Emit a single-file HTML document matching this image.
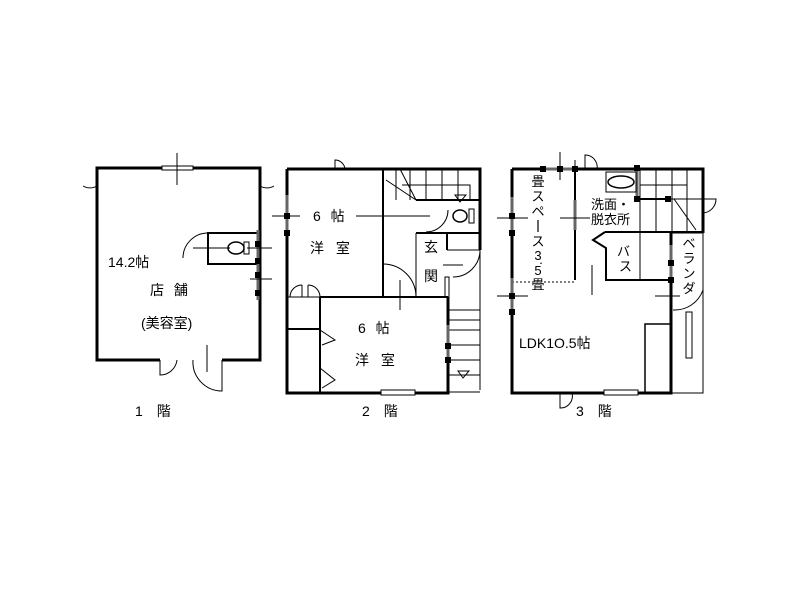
<!DOCTYPE html>
<html><head><meta charset="utf-8"><style>
html,body{margin:0;padding:0;background:#fff;width:800px;height:600px;overflow:hidden}
svg{display:block}
text{font-family:"Liberation Sans","Noto Sans CJK JP",sans-serif;fill:#000}
</style></head><body>
<svg width="800" height="600" viewBox="0 0 800 600" xmlns="http://www.w3.org/2000/svg">
<g fill="none" stroke="#000">
<!-- Floor 1 -->
<rect x="97" y="168" width="163" height="192" stroke-width="3"/>
<rect x="162" y="166" width="31" height="4" fill="#fff" stroke-width="1"/>
<line x1="177" y1="153" x2="177" y2="185" stroke-width="1"/>
<path d="M97 186 A14 14 0 0 1 83 186 M97 186 L97 200 M260 186 A14 14 0 0 0 274 186" stroke-width="1"/>
<rect x="208" y="233" width="50" height="31" stroke-width="2"/>
<path d="M208 233 A25 25 0 0 0 183 258" stroke-width="1"/>
<line x1="193" y1="248" x2="230" y2="248" stroke-width="1"/>
<ellipse cx="236" cy="248" rx="8" ry="6" stroke-width="1.5"/>
<rect x="244" y="242" width="5" height="12" stroke-width="1"/>
<line x1="258" y1="230" x2="258" y2="300" stroke="#666" stroke-width="3"/>
<line x1="250" y1="279" x2="272" y2="279" stroke-width="1"/>
<line x1="247" y1="248" x2="272" y2="248" stroke-width="1"/>
<rect x="160" y="357" width="62" height="6" fill="#fff" stroke="none"/>
<path d="M160 360 L160 375 A17 17 0 0 0 177 360" stroke-width="1"/>
<path d="M222 360 L222 391 A29 29 0 0 1 193 360 M207 345 L207 372" stroke-width="1"/>
<!-- Floor 2 -->
<path d="M287 169 L480 169 L480 250 M287 169 L287 393 L448 393 L448 297" stroke-width="3"/>
<line x1="480" y1="250" x2="480" y2="390" stroke-width="1"/>
<line x1="383" y1="169" x2="383" y2="297" stroke-width="2"/>
<line x1="320" y1="297" x2="448" y2="297" stroke-width="2"/>
<line x1="287" y1="297" x2="320" y2="297" stroke-width="1"/>
<line x1="320" y1="297" x2="320" y2="393" stroke-width="2"/>
<line x1="287" y1="329" x2="320" y2="329" stroke-width="2"/>
<line x1="416" y1="200" x2="480" y2="200" stroke-width="2"/>
<line x1="416" y1="233" x2="480" y2="233" stroke-width="2"/>
<line x1="416" y1="233" x2="416" y2="297" stroke-width="1"/>
<line x1="447" y1="233" x2="447" y2="250" stroke-width="2"/>
<line x1="447" y1="250" x2="480" y2="250" stroke-width="1"/>
<path d="M396 169 L396 200 M410 169 L410 200 M426 169 L426 200 M442 169 L442 200 M458 169 L458 200 M402 185 L470 185 L470 200 M386 180 L416 200 M400 169 L416 200" stroke-width="1"/>
<path d="M455 195 L466 195 L460 202 Z" stroke-width="1"/>
<path d="M448 210 A22 22 0 0 1 426 232" stroke-width="1"/>
<line x1="356" y1="216" x2="430" y2="216" stroke-width="1"/>
<ellipse cx="460" cy="216" rx="7" ry="6" stroke-width="1.5"/>
<rect x="469" y="209" width="5" height="14" stroke-width="1"/>
<path d="M480 250 A27 27 0 0 1 453 277 M443 265 L463 265" stroke-width="1"/>
<rect x="445" y="277" width="4" height="20" stroke-width="1"/>
<path d="M383 264 A33 33 0 0 1 416 297 M400 280 L400 310" stroke-width="1"/>
<path d="M290 297 A12 12 0 0 1 302 285 M302 297 L302 285 M320 297 A12 12 0 0 0 308 285 M308 297 L308 285" stroke-width="1"/>
<path d="M320 330 L335 340 L322 345 M320 368 L335 380 L322 388" stroke-width="1"/>
<path d="M448 310 L480 310 M448 320 L480 320 M448 330 L480 330 M448 345 L480 345 M448 360 L480 360 M448 375 L480 375 M448 392 L480 392" stroke-width="1"/>
<path d="M458 371 L469 371 L463 378 Z" stroke-width="1"/>
<rect x="381" y="390" width="34" height="5" fill="#fff" stroke-width="1"/>
<path d="M335 169 L335 160 A10 10 0 0 1 345 169" stroke-width="1"/>
<line x1="287" y1="195" x2="287" y2="235" stroke="#666" stroke-width="3"/>
<line x1="272" y1="216" x2="300" y2="216" stroke-width="1"/>
<line x1="448" y1="325" x2="448" y2="362" stroke="#666" stroke-width="3"/>
<!-- Floor 3 -->
<path d="M512 169 L703 169 L703 233 M512 169 L512 393 L671 393 L671 233" stroke-width="3"/>
<rect x="671" y="233" width="32" height="160" stroke-width="1"/>
<line x1="575" y1="169" x2="575" y2="280" stroke-width="2"/>
<line x1="605" y1="232" x2="703" y2="232" stroke-width="2"/>
<path d="M605 232 L593 240 L606 248 L606 280 L671 280" stroke-width="2"/>
<line x1="640" y1="233" x2="640" y2="280" stroke-width="1"/>
<line x1="512" y1="282" x2="575" y2="282" stroke-width="1" stroke-dasharray="2,2"/>
<rect x="645" y="324" width="26" height="69" stroke-width="1.5"/>
<rect x="686" y="312" width="6" height="46" stroke-width="1"/>
<path d="M640 169 L640 232 M656 169 L656 232 M672 169 L672 232 M687 169 L687 232 M640 185 L687 185 L687 195 M640 199 L703 199 M674 199 L696 230" stroke-width="1"/>
<line x1="637" y1="169" x2="637" y2="198" stroke="#666" stroke-width="3"/>
<ellipse cx="621" cy="182" rx="13" ry="6" stroke-width="1.5"/>
<rect x="606" y="172" width="30" height="20" stroke-width="1"/>
<line x1="637" y1="199" x2="670" y2="199" stroke-width="2"/>
<path d="M703 199 L716 199 A14 14 0 0 1 703 213" stroke-width="1"/>
<path d="M575 160 L575 169 M585 169 L585 155 A12 12 0 0 1 597 169" stroke-width="1"/>
<line x1="560" y1="152" x2="560" y2="180" stroke-width="1"/>
<line x1="540" y1="169" x2="575" y2="169" stroke="#666" stroke-width="3"/>
<line x1="512" y1="197" x2="512" y2="232" stroke="#666" stroke-width="3"/>
<line x1="512" y1="278" x2="512" y2="312" stroke="#666" stroke-width="3"/>
<line x1="575" y1="200" x2="575" y2="230" stroke="#666" stroke-width="3"/>
<line x1="671" y1="245" x2="671" y2="280" stroke="#666" stroke-width="3"/>
<line x1="497" y1="218" x2="528" y2="218" stroke-width="1"/>
<line x1="497" y1="296" x2="528" y2="296" stroke-width="1"/>
<line x1="560" y1="218" x2="590" y2="218" stroke-width="1"/>
<line x1="592" y1="265" x2="592" y2="295" stroke-width="1"/>
<path d="M703 282 L703 290 A30 30 0 0 1 673 310 M655 296 L680 296" stroke-width="1"/>
<rect x="604" y="390" width="34" height="5" fill="#fff" stroke-width="1"/>
<path d="M560 393 L560 408 A12 12 0 0 0 572 393" stroke-width="1"/>
</g>
<g fill="#000">
<rect x="255" y="241" width="6" height="6"/><rect x="255" y="258" width="6" height="6"/>
<rect x="255" y="272" width="6" height="6"/><rect x="255" y="290" width="6" height="6"/>
<rect x="284" y="213" width="6" height="6"/><rect x="284" y="230" width="6" height="6"/>
<rect x="445" y="343" width="6" height="6"/><rect x="445" y="357" width="6" height="6"/>
<rect x="509" y="213" width="6" height="6"/><rect x="509" y="230" width="6" height="6"/>
<rect x="509" y="293" width="6" height="6"/><rect x="509" y="309" width="6" height="6"/>
<rect x="540" y="166" width="6" height="6"/><rect x="557" y="166" width="6" height="6"/><rect x="572" y="166" width="6" height="6"/>
<rect x="634" y="165" width="6" height="6"/><rect x="634" y="196" width="6" height="6"/><rect x="665" y="196" width="6" height="6"/>
<rect x="668" y="260" width="6" height="6"/><rect x="668" y="277" width="6" height="6"/>
</g>
<g font-size="14">
<text x="108" y="267">14.2帖</text>
<text x="150" y="295" letter-spacing="3">店 舗</text>
<text x="141" y="328">(美容室)</text>
<text x="135" y="416">1　階</text>
<text x="313" y="221" letter-spacing="3">6 帖</text>
<text x="310" y="253" letter-spacing="4">洋 室</text>
<text x="358" y="333" letter-spacing="3">6 帖</text>
<text x="355" y="365" letter-spacing="4">洋 室</text>
<text x="424" y="252">玄</text>
<text x="424" y="281">関</text>
<text x="362" y="416">2　階</text>
<text x="576" y="416">3　階</text>
<text x="519" y="348">LDK1O.5帖</text>
<text x="591" y="209" font-size="13">洗面・</text>
<text x="591" y="224" font-size="13">脱衣所</text>
<text x="617" y="256" font-size="13">バ</text>
<text x="619" y="271" font-size="13">ス</text>
</g>
<g font-size="13" text-anchor="middle">
<text x="538" y="186">畳</text>
<text x="538" y="201">ス</text>
<text x="538" y="216">ペ</text>
<text x="538" y="246">ス</text>
<text x="538" y="260">3</text>
<text x="541" y="264">.</text>
<text x="538" y="275">5</text>
<text x="538" y="289">畳</text>
<text x="689" y="248">ベ</text>
<text x="689" y="263">ラ</text>
<text x="689" y="278">ン</text>
<text x="689" y="293">ダ</text>
</g>
<line x1="538" y1="220" x2="538" y2="232" stroke="#000" stroke-width="1.2"/>
</svg>
</body></html>
